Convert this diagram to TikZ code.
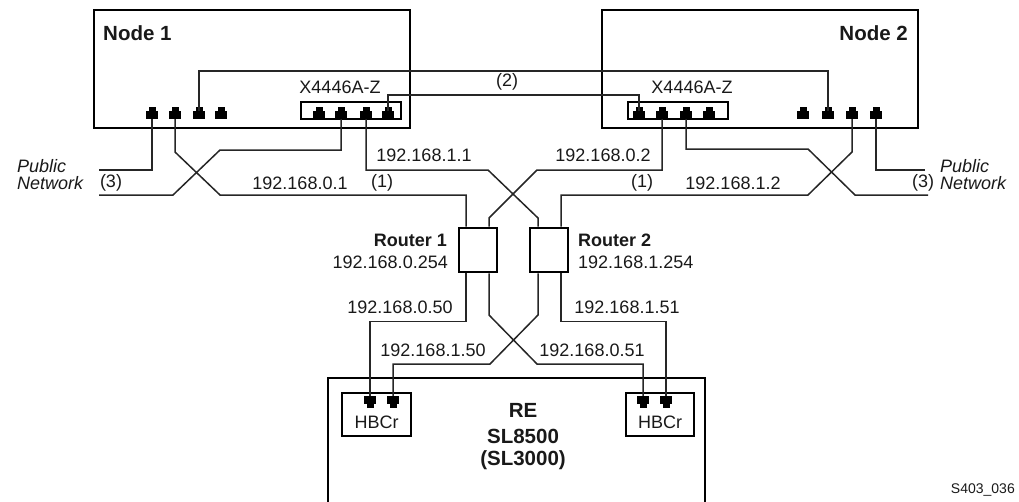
\documentclass[tikz,border=0pt]{standalone}
\usepackage{fontspec}
\setmainfont{Liberation Sans}
\begin{document}
\begin{tikzpicture}[x=1pt,y=-1pt,
  wire/.style={line width=1.5pt, black!85, line join=miter},
  bigbox/.style={draw, line width=2.8pt, inner sep=0pt},
  thinbox/.style={draw, line width=1.3pt, inner sep=0pt},
  portbody/.style={fill=black, draw=none, minimum width=12pt, minimum height=8pt, inner sep=0pt},
  txt/.style={font=\fontsize{18}{20}\selectfont, inner sep=0pt, text=black!90},
  itxt/.style={font=\fontsize{18}{20}\selectfont\itshape, inner sep=0pt, text=black!90},
  btxt/.style={font=\fontsize{20.5}{22}\selectfont\bfseries, inner sep=0pt, text=black!90},
  rtxt/.style={font=\fontsize{18}{20}\selectfont\bfseries, inner sep=0pt, text=black!90},
]
\useasboundingbox (0,0) rectangle (1019,501);

% main boxes
\node[bigbox, minimum width=316pt, minimum height=118pt] (node1) at (252,69) {};
\node[bigbox, minimum width=316pt, minimum height=118pt] (node2) at (760,69) {};
\node[thinbox, minimum width=100pt, minimum height=17pt] (xbox1) at (351,110.5) {};
\node[thinbox, minimum width=100pt, minimum height=17pt] (xbox2) at (678,110.5) {};
\node[bigbox, minimum width=38pt, minimum height=44pt] (r1) at (478,250) {};
\node[bigbox, minimum width=38pt, minimum height=44pt] (r2) at (549,250) {};
\node[bigbox, minimum width=377pt, minimum height=132pt] (re) at (516.5,444) {};
\node[thinbox, minimum width=69pt, minimum height=43pt] (hbl) at (376.5,414.5) {};
\node[thinbox, minimum width=68pt, minimum height=43pt] (hbr) at (660,414.5) {};

% ports on nodes (tab on top)
\foreach \n/\x in {n1p1/152, n1p2/175, n1p3/199, n1p4/221,
                   x1p1/319, x1p2/341, x1p3/366, x1p4/388,
                   x2p1/639, x2p2/662, x2p3/686, x2p4/709,
                   n2p1/803, n2p2/828, n2p3/852, n2p4/876}{
  \node[portbody] (\n) at (\x,115) {};
  \fill ([xshift=-3.5pt]\n.north) rectangle ([xshift=3.5pt,yshift=3.5pt]\n.north);
}
% ports on HBCr (tab below)
\foreach \n/\x in {hl1/370, hl2/393, hr1/643, hr2/666}{
  \node[portbody] (\n) at (\x,400) {};
  \fill ([xshift=-3.5pt]\n.south) rectangle ([xshift=3.5pt,yshift=-3.5pt]\n.south);
}

% free ends
\coordinate (pubL1) at (99,170);
\coordinate (pubL2) at (99,195);
\coordinate (pubR1) at (925,170);
\coordinate (pubR2) at (928,195);

% (2) links between nodes
\draw[wire] (n1p3.north) -- (n1p3.north |- 0,71) -| (n2p2.north);
\draw[wire] (x1p4.north) -- (x1p4.north |- 0,95) -| (x2p1.north);

% Node 1 lower wires
\draw[wire] (n1p1.south) |- (pubL1);
\draw[wire] (n1p2.south) -- (175,152) -- (220,195) -| ([xshift=-12pt]r1.north);
\draw[wire] (x1p2.south) -- (341,150) -- (220,150) -- (173,195) -- (pubL2);
\draw[wire] (x1p3.south) -- (366,170) -- (488,170) -- (538,218) -- ([xshift=-11pt]r2.north);

% Node 2 lower wires
\draw[wire] (x2p2.south) -- (662,170) -- (537,170) -- (489,218) -- ([xshift=11pt]r1.north);
\draw[wire] (n2p3.south) -- (852,152) -- (808,195) -| ([xshift=12pt]r2.north);
\draw[wire] (x2p3.south) -- (686,149) -- (808,149) -- (855,195) -- (pubR2);
\draw[wire] (n2p4.south) |- (pubR1);

% routers to HBCr
\draw[wire] ([xshift=-12pt]r1.south) -- ++(0,48) -| (hl1.north);
\draw[wire] ([xshift=11pt]r1.south) -- (489,315) -- (537,364) -| (hr1.north);
\draw[wire] ([xshift=-11pt]r2.south) -- (538,315) -- (490,364) -| (hl2.north);
\draw[wire] ([xshift=12pt]r2.south) -- ++(0,48) -| (hr2.north);

% texts
\node[btxt, anchor=west] (t1) at (103,33) {Node 1};
\node[btxt, anchor=east] (t2) at (908,33) {Node 2};
\node[txt] (tx1) at (340,87) {X4446A-Z};
\node[txt] (tx2) at (692,87) {X4446A-Z};
\node[txt] (t2a) at (507,82) {(2)};

\node[itxt, anchor=west] (pl1) at (17,166) {Public};
\node[itxt, anchor=west] (pl2) at (17,183) {Network};
\node[itxt, anchor=west] (pr1) at (940,166) {Public};
\node[itxt, anchor=west] (pr2) at (940,183) {Network};
\node[txt] (t3l) at (111,183) {(3)};
\node[txt] (t3r) at (923,183) {(3)};

\node[txt] (ip01) at (300,183) {192.168.0.1};
\node[txt] (t1l) at (382,183) {(1)};
\node[txt] (ip11) at (424,155) {192.168.1.1};
\node[txt] (ip02) at (603,155) {192.168.0.2};
\node[txt] (t1r) at (642,183) {(1)};
\node[txt] (ip12) at (733,183) {192.168.1.2};

\node[rtxt, anchor=east] (rl1) at (447,240) {Router 1};
\node[txt, anchor=east] (rip1) at (448,262) {192.168.0.254};
\node[rtxt, anchor=west] (rl2) at (578,240) {Router 2};
\node[txt, anchor=west] (rip2) at (578,262) {192.168.1.254};

\node[txt] (ip050) at (400,307) {192.168.0.50};
\node[txt] (ip151) at (627,307) {192.168.1.51};
\node[txt] (ip150) at (433,350) {192.168.1.50};
\node[txt] (ip051) at (592,350) {192.168.0.51};

\node[txt] (hbt1) at (376.5,422) {HBCr};
\node[txt] (hbt2) at (660,422) {HBCr};
\node[btxt] (ret1) at (523,410) {RE};
\node[btxt] (ret2) at (523,436) {SL8500};
\node[btxt] (ret3) at (523,460) {(SL3000)};

\node[font=\fontsize{14}{16}\selectfont, inner sep=0pt, text=black!90, anchor=east] (code) at (1015,490) {S403\_036};
\end{tikzpicture}
\end{document}
